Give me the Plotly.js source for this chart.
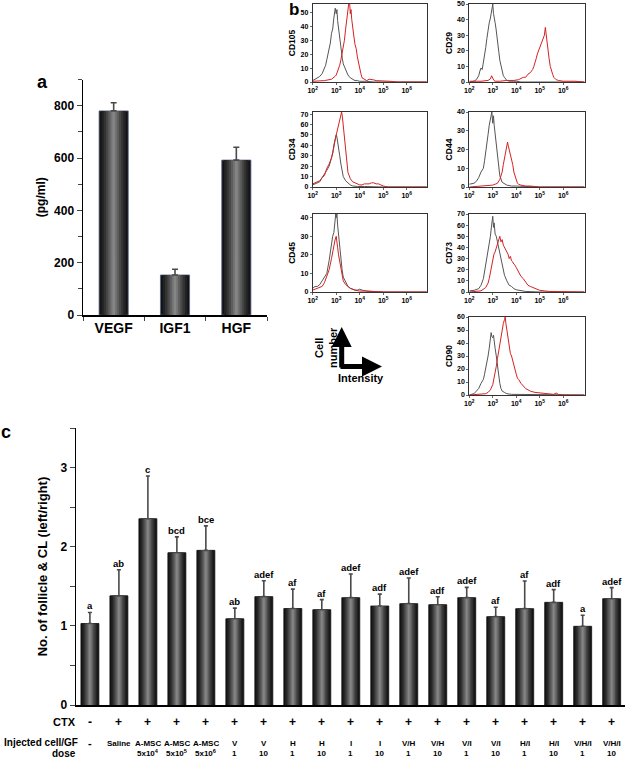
<!DOCTYPE html>
<html>
<head>
<meta charset="utf-8">
<script src="https://cdn.plot.ly/plotly-3.0.1.min.js"></script>
<style>html,body{margin:0;padding:0;background:#fff;}#chart{width:627px;height:759px;}</style>
</head>
<body>
<div id="chart"></div>
<script>
// ---------- Panel a data ----------
const aCats = ['VEGF', 'IGF1', 'HGF'];
const aVals = [780, 153, 592];
const aErrs = [31, 22, 49];

// ---------- Panel b data (log10 intensity, cell count) ----------
const cd105Gx = [2.0,2.1,2.2,2.3,2.4,2.5,2.55,2.6,2.65,2.7,2.75,2.8,2.85,2.9,2.93,2.96,3.0,3.03,3.06,3.1,3.14,3.18,3.22,3.26,3.3,3.35,3.4,3.5,3.6,3.7,3.8,3.9,4.0,4.3,4.6,5,6,6.88];
const cd105Gy = [1,2,3,4,6,10,12,16,20,25,28,35,38,46,50,53,49,52,44,38,31,27,20,17,13,11,8,5,3,2,1,1,0.5,0.5,0,0,0,0];
const cd105Rx = [2.0,2.5,2.8,2.9,2.95,3.0,3.05,3.1,3.15,3.2,3.25,3.3,3.35,3.4,3.45,3.5,3.53,3.56,3.6,3.63,3.66,3.7,3.75,3.8,3.85,3.9,3.95,4.0,4.05,4.1,4.2,4.3,4.4,4.5,4.6,4.7,4.8,4.9,5.0,5.3,5.6,6.0,6.88];
const cd105Ry = [0.5,1,2,3,4,5,7,9,12,16,20,26,30,38,44,50,58,60,49,52,45,38,33,27,24,18,13,9,6,3,2,1,2,2,1.5,1,1,0.5,0.5,0.5,0,0,0];

const cd29Gx = [2.0,2.2,2.3,2.4,2.45,2.5,2.55,2.6,2.65,2.7,2.75,2.8,2.85,2.9,2.95,2.98,3.0,3.03,3.06,3.1,3.14,3.18,3.22,3.26,3.3,3.35,3.4,3.45,3.5,3.6,3.7,3.8,4.0,4.2,5,6.9];
const cd29Gy = [0,0.5,1.5,4,7,9,8,12,16,22,28,34,38,41,46,48,50,44,42,38,34,30,25,19,14,10,7,4,3,1,0.5,0.5,0.5,0,0,0];
const cd29Rx = [2.0,2.5,2.8,2.9,2.95,3.0,3.05,3.1,3.3,3.6,3.9,4.1,4.3,4.4,4.5,4.6,4.7,4.75,4.8,4.85,4.9,4.95,5.0,5.05,5.1,5.15,5.2,5.24,5.28,5.32,5.36,5.4,5.45,5.5,5.55,5.6,5.7,5.8,6.0,6.5,6.9];
const cd29Ry = [0.5,0.5,1,2,4,2,1,0.5,0.5,1,1,1.5,3,3,5,6,8,10,12,15,18,20,22,23,26,28,30,35,29,27,20,15,10,7,5,3,1.5,1,0.5,0.5,0];

const cd34Gx = [2.0,2.1,2.2,2.3,2.4,2.5,2.6,2.7,2.75,2.8,2.85,2.9,2.95,3.0,3.03,3.06,3.1,3.15,3.2,3.25,3.3,3.4,3.5,3.6,3.7,3.9,4.2,5,6.88];
const cd34Gy = [2,3,4,5,9,12,16,20,24,28,32,40,46,50,48,44,40,30,22,14,10,6,4,2,1,0.5,0.5,0,0];
const cd34Rx = [2.0,2.1,2.2,2.3,2.4,2.5,2.6,2.7,2.8,2.85,2.9,2.95,3.0,3.05,3.1,3.15,3.2,3.23,3.26,3.3,3.35,3.4,3.45,3.5,3.6,3.7,3.8,3.9,4.0,4.1,4.2,4.3,4.4,4.5,4.6,4.7,4.8,4.9,5.0,5.2,6.88];
const cd34Ry = [3,4,5,6,9,11,18,22,28,32,38,45,50,54,58,65,70,72,68,58,45,32,22,14,8,5,4,3,2,2,3,3,3,4,4,3,3,2,1,0,0];

const cd44Gx = [2.0,2.2,2.3,2.4,2.5,2.6,2.65,2.7,2.75,2.8,2.85,2.9,2.93,2.96,3.0,3.03,3.06,3.1,3.15,3.2,3.25,3.3,3.4,3.5,3.6,3.8,4.0,5,6.9];
const cd44Gy = [1.5,2,3,5,8,10,14,18,22,28,33,37,40,40,34,38,33,28,22,15,10,6,2.5,1.5,1,0.5,0.5,0,0];
const cd44Rx = [2.0,2.8,3.0,3.1,3.2,3.3,3.35,3.4,3.45,3.5,3.55,3.6,3.63,3.66,3.7,3.75,3.8,3.85,3.9,3.95,4.0,4.05,4.1,4.2,4.4,4.6,5.0,6.9];
const cd44Ry = [0,0.5,1,1.5,2,4,6,8,12,15,19,21,24,22,20,18,15,12,8,6,4,2,1.5,1,0.5,0.5,0,0];

const cd45Gx = [2.0,2.1,2.2,2.3,2.4,2.5,2.6,2.7,2.75,2.8,2.85,2.9,2.95,2.98,3.0,3.03,3.06,3.1,3.15,3.2,3.25,3.3,3.4,3.5,3.6,3.7,3.8,3.9,4.0,4.1,4.3,5,6.88];
const cd45Gy = [2,3,3,4,6,8,10,17,22,26,30,32,38,42,40,42,36,30,24,18,12,8,5,3,2,1.5,1,1,1.5,1,0.5,0,0];
const cd45Rx = [2.0,2.2,2.4,2.5,2.6,2.7,2.8,2.85,2.9,2.95,3.0,3.03,3.06,3.1,3.15,3.2,3.25,3.3,3.4,3.5,3.6,3.8,4.0,4.2,5,6.88];
const cd45Ry = [1,2,3,5,8,12,18,22,25,28,30,28,24,20,16,12,9,6,4,3,2,1,0.5,0.5,0,0];

const cd73Gx = [2.0,2.2,2.4,2.5,2.6,2.65,2.7,2.75,2.8,2.85,2.9,2.95,2.98,3.0,3.03,3.06,3.1,3.15,3.2,3.25,3.3,3.35,3.4,3.45,3.5,3.6,3.7,3.8,3.9,4.0,4.2,4.4,5,6.9];
const cd73Gy = [1,1.5,3,6,12,18,25,30,38,42,50,60,65,68,58,62,52,50,45,40,35,30,24,20,15,10,6,5,3,2,1,0.5,0,0];
const cd73Rx = [2.0,2.5,2.7,2.8,2.85,2.9,2.95,3.0,3.05,3.1,3.15,3.2,3.25,3.3,3.35,3.4,3.45,3.5,3.55,3.6,3.65,3.7,3.75,3.8,3.85,3.9,3.95,4.0,4.05,4.1,4.2,4.3,4.4,4.5,4.6,4.7,4.8,4.9,5.0,5.2,5.4,6.9];
const cd73Ry = [0,1,4,8,12,18,25,30,34,36,40,44,48,50,45,47,42,40,38,36,34,30,32,28,27,25,24,22,20,18,14,12,9,6,5,4,3,2,1.5,1,0.5,0];

const cd90Gx = [2.0,2.2,2.3,2.4,2.5,2.6,2.65,2.7,2.75,2.8,2.85,2.9,2.93,2.96,3.0,3.03,3.06,3.1,3.15,3.2,3.25,3.3,3.35,3.4,3.5,3.6,3.8,4.0,5,6.9];
const cd90Gy = [0,1,3,5,9,12,16,20,25,30,36,42,48,45,44,46,40,36,30,22,15,9,5,3,2,1,0.5,0.5,0,0];
const cd90Rx = [2.0,2.5,2.7,2.8,2.9,3.0,3.05,3.1,3.15,3.2,3.25,3.3,3.35,3.4,3.45,3.5,3.53,3.56,3.6,3.65,3.7,3.75,3.8,3.85,3.9,3.95,4.0,4.05,4.1,4.2,4.3,4.4,4.5,4.6,4.8,5.0,5.2,5.4,5.6,5.7,5.8,6.0,6.9];
const cd90Ry = [0,0.5,1,2,4,8,12,16,22,28,34,40,45,50,55,58,60,55,50,44,38,32,30,26,22,20,16,13,12,9,7,5,4,3,2,1.5,1,1,0.5,1.5,0.5,0,0];

const bNames = ['CD105', 'CD34', 'CD45', 'CD29', 'CD44', 'CD73', 'CD90'];
const bYMax = [56, 72, 42, 50, 40, 70, 60];
const bTickVals = [2, 3, 4, 5, 6];
const bTickText = ['10<sup>2</sup>', '10<sup>3</sup>', '10<sup>4</sup>', '10<sup>5</sup>', '10<sup>6</sup>'];

// ---------- Panel c data ----------
const cCtx = ['-','+','+','+','+','+','+','+','+','+','+','+','+','+','+','+','+','+','+'];
const cCell = ['-','Saline','A-MSC','A-MSC','A-MSC','V','V','H','H','I','I','V/H','V/H','V/I','V/I','H/I','H/I','V/H/I','V/H/I'];
const cDose = ['','','5x10<sup>4</sup>','5x10<sup>5</sup>','5x10<sup>6</sup>','1','10','1','10','1','10','1','10','1','10','1','10','1','10'];
const cVals = [1.03,1.38,2.355,1.925,1.955,1.09,1.37,1.22,1.205,1.357,1.252,1.281,1.268,1.357,1.117,1.218,1.298,0.995,1.344];
const cErrs = [0.14,0.33,0.54,0.2,0.31,0.135,0.2,0.245,0.127,0.3,0.15,0.325,0.1,0.13,0.118,0.35,0.16,0.139,0.14];
const cLetters = ['a','ab','c','bcd','bce','ab','adef','af','af','adef','adf','adef','adf','adef','af','af','adf','a','adef'];

// ---------- build ----------
const FONT = 'Arial, "Liberation Sans", sans-serif';
const W = 627, H = 759;
const px = v => v / W;
const py = v => 1 - v / H;
const shades = [
  {w: 1.00, c: '#141414'}, {w: 0.84, c: '#222222'}, {w: 0.68, c: '#333333'},
  {w: 0.52, c: '#474747'}, {w: 0.37, c: '#5e5e5e'}, {w: 0.22, c: '#737373'}, {w: 0.09, c: '#858585'}
];

const traces = [];
function cylBars(x, y, err, baseW, xa, ya, outline, capW) {
  shades.forEach((s, i) => {
    const t = {
      type: 'bar', x: x, y: y, width: baseW * s.w, xaxis: xa, yaxis: ya,
      marker: {color: s.c, line: {width: i === 0 ? 0.8 : 0, color: outline}},
      hoverinfo: 'skip', showlegend: false
    };
    if (i === shades.length - 1) {
      t.error_y = {type: 'data', symmetric: false, array: err, arrayminus: err.map(() => 0),
                   color: '#4a4a4a', thickness: 1.6, width: capW};
    }
    traces.push(t);
  });
}
cylBars(aCats, aVals, aErrs, 0.475, 'x', 'y', '#56608a', 3);
cylBars(cVals.map((_, i) => i), cVals, cErrs, 0.62, 'x9', 'y9', '#111', 2);

const bData = [
  [cd105Gx, cd105Gy, cd105Rx, cd105Ry],
  [cd34Gx, cd34Gy, cd34Rx, cd34Ry],
  [cd45Gx, cd45Gy, cd45Rx, cd45Ry],
  [cd29Gx, cd29Gy, cd29Rx, cd29Ry],
  [cd44Gx, cd44Gy, cd44Rx, cd44Ry],
  [cd73Gx, cd73Gy, cd73Rx, cd73Ry],
  [cd90Gx, cd90Gy, cd90Rx, cd90Ry]
];
const colL = [312.7, 426.7], colR = [469.3, 585];
const rows = [[4, 82], [112, 187], [214, 292], [317, 395]];
const bPos = [[colL, rows[0]], [colL, rows[1]], [colL, rows[2]], [colR, rows[0]], [colR, rows[1]], [colR, rows[2]], [colR, rows[3]]];

const layout = {
  width: W, height: H, margin: {l: 0, r: 0, t: 0, b: 0},
  paper_bgcolor: '#fff', plot_bgcolor: 'rgba(0,0,0,0)',
  barmode: 'overlay', showlegend: false,
  font: {family: FONT, color: '#000', weight: 'bold'},
  xaxis: {domain: [px(83), px(267)], anchor: 'y', type: 'category', range: [-0.5, 2.5],
          tickson: 'boundaries', ticks: 'outside', ticklen: 4, tickwidth: 1, showline: true, linewidth: 1.5, linecolor: '#000',
          tickfont: {size: 14, family: FONT, weight: 'bold'}, showgrid: false, zeroline: false},
  yaxis: {domain: [py(315), py(79.5)], anchor: 'x', range: [0, 900], dtick: 200, ticks: 'outside', ticklen: 5, tickwidth: 1,
          minor: {dtick: 100, ticks: 'outside', ticklen: 4, tickwidth: 1, showgrid: false},
          showline: true, linewidth: 1.5, linecolor: '#000', showgrid: false, zeroline: false,
          tickfont: {size: 12, family: FONT, weight: 'bold'},
          title: {text: '(pg/ml)', font: {size: 12, family: FONT, weight: 'bold'}, standoff: 6}},
  xaxis9: {domain: [px(76), px(625)], anchor: 'y9', range: [-0.48, 18.46], showticklabels: false, ticks: '',
           showline: true, linewidth: 1.5, linecolor: '#000', showgrid: false, zeroline: false},
  yaxis9: {domain: [py(705), py(428.15)], anchor: 'x9', range: [0, 3.5], dtick: 1, ticks: 'outside', ticklen: 5, tickwidth: 1,
           minor: {dtick: 0.5, ticks: 'outside', ticklen: 5, tickwidth: 1, showgrid: false},
           showline: true, linewidth: 1.5, linecolor: '#000', showgrid: false, zeroline: false,
           tickfont: {size: 12, family: FONT, weight: 'bold'},
           title: {text: 'No. of follicle &amp; CL (left/right)', font: {size: 13, family: FONT, weight: 'bold'}, standoff: 10}},
  annotations: [], shapes: []
};

bData.forEach((d, i) => {
  const n = i + 2;
  const [cx, ry] = bPos[i];
  traces.push({type: 'scatter', mode: 'lines', x: d[0], y: d[1], xaxis: 'x' + n, yaxis: 'y' + n,
               line: {color: '#555', width: 1}, hoverinfo: 'skip', showlegend: false, cliponaxis: true});
  traces.push({type: 'scatter', mode: 'lines', x: d[2], y: d[3], xaxis: 'x' + n, yaxis: 'y' + n,
               line: {color: '#d42222', width: 1}, hoverinfo: 'skip', showlegend: false, cliponaxis: true});
  layout['xaxis' + n] = {domain: [px(cx[0]), px(cx[1])], anchor: 'y' + n, range: [2, i < 3 ? 6.85 : 6.93],
    tickvals: bTickVals, ticktext: bTickText, ticks: 'outside', ticklen: 2, tickwidth: 0.8,
    showline: true, mirror: true, linewidth: 1, linecolor: '#333', showgrid: false, zeroline: false,
    tickfont: {size: 7, family: FONT, weight: 'bold'}};
  layout['yaxis' + n] = {domain: [py(ry[1]), py(ry[0])], anchor: 'x' + n, range: [0, bYMax[i]], dtick: 10,
    ticks: 'outside', ticklen: 2, tickwidth: 0.8,
    showline: true, mirror: true, linewidth: 1, linecolor: '#333', showgrid: false, zeroline: false,
    tickfont: {size: 7, family: FONT, weight: 'bold'},
    title: {text: bNames[i], font: {size: 8.5, family: FONT, weight: 'bold'}, standoff: 3}};
});

const ann = layout.annotations;
const boldF = (s) => ({size: s, family: FONT, color: '#000', weight: 'bold'});
function note(o) {
  return Object.assign({showarrow: false, xanchor: 'center', yanchor: 'middle'}, o);
}
// Panel letters
ann.push(note({xref: 'paper', yref: 'paper', x: px(42), y: py(82), text: 'a', font: boldF(18)}));
ann.push(note({xref: 'paper', yref: 'paper', x: px(294), y: py(10), text: 'b', font: boldF(17)}));
ann.push(note({xref: 'paper', yref: 'paper', x: px(6), y: py(432), text: 'c', font: boldF(18)}));
// Cell number / Intensity legend
ann.push({xref: 'paper', yref: 'paper', x: px(341.7), y: py(327), ax: 0, ay: 42, axref: 'pixel', ayref: 'pixel',
          showarrow: true, arrowhead: 2, arrowsize: 0.8, arrowwidth: 5, arrowcolor: '#000', text: ''});
ann.push({xref: 'paper', yref: 'paper', x: px(382), y: py(366.5), ax: -43, ay: 0, axref: 'pixel', ayref: 'pixel',
          showarrow: true, arrowhead: 2, arrowsize: 0.8, arrowwidth: 5, arrowcolor: '#000', text: ''});
ann.push(note({xref: 'paper', yref: 'paper', x: px(326), y: py(348), text: 'Cell<br>number', textangle: -90, font: boldF(11)}));
ann.push(note({xref: 'paper', yref: 'paper', x: px(361), y: py(378.5), text: 'Intensity', font: boldF(11)}));
// Panel c letters above bars
cLetters.forEach((t, i) => {
  ann.push(note({xref: 'x9', yref: 'y9', x: i, y: cVals[i] + cErrs[i], text: t, yanchor: 'bottom', yshift: -1, font: boldF(9.5)}));
});
// Row labels
ann.push(note({xref: 'paper', yref: 'paper', x: px(78), y: py(721.5), xanchor: 'right', text: 'CTX', font: boldF(11)}));
ann.push(note({xref: 'paper', yref: 'paper', x: px(80), y: py(742.5), xanchor: 'right', text: 'Injected cell/GF', font: boldF(10)}));
ann.push(note({xref: 'paper', yref: 'paper', x: px(78), y: py(753), xanchor: 'right', text: 'dose', font: boldF(10)}));
cCtx.forEach((t, i) => ann.push(note({xref: 'x9', yref: 'paper', x: i, y: py(721.5), text: t, font: boldF(12)})));
cCell.forEach((t, i) => ann.push(note({xref: 'x9', yref: 'paper', x: i, y: py(743), text: t, font: boldF(i === 0 ? 11 : 8)})));
cDose.forEach((t, i) => { if (t) ann.push(note({xref: 'x9', yref: 'paper', x: i, y: py(753), text: t, font: boldF(8)})); });

Plotly.newPlot('chart', traces, layout, {staticPlot: true, displayModeBar: false});
</script>
</body>
</html>
